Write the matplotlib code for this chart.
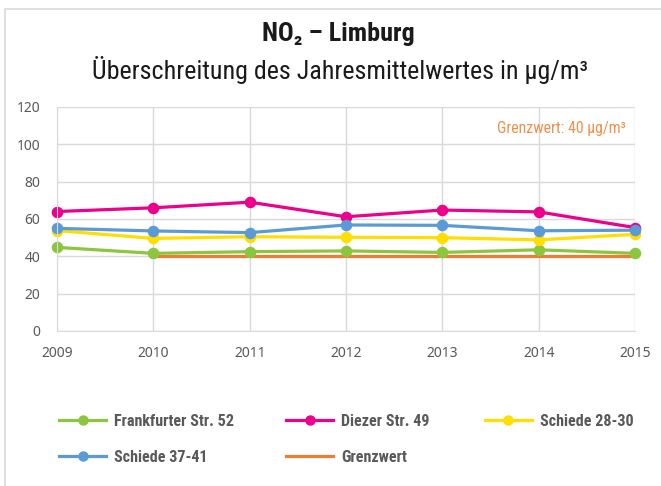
import matplotlib
matplotlib.use("Agg")
import matplotlib.pyplot as plt
from matplotlib.patches import Rectangle
from matplotlib.lines import Line2D
from matplotlib import font_manager
from matplotlib.font_manager import FontProperties

years = [2009, 2010, 2011, 2012, 2013, 2014, 2015]
frankfurter = [44.8, 41.6, 42.5, 42.9, 42.1, 43.5, 41.6]
diezer = [64, 66, 69, 61.2, 64.8, 63.8, 55.4]
schiede_28_30 = [53.8, 49.6, 50.5, 50.2, 50.0, 48.8, 51.8]
schiede_37_41 = [55, 53.6, 52.7, 56.8, 56.6, 53.7, 54.0]
grenz_years = [2010, 2011, 2012, 2013, 2014, 2015]
grenzwert = [40, 40, 40, 40, 40, 40]
yticks = [0, 20, 40, 60, 80, 100, 120]
series_labels = ["Frankfurter Str. 52", "Diezer Str. 49", "Schiede 28-30", "Schiede 37-41", "Grenzwert"]

# ---- font selection -------------------------------------------------------
ttfs = font_manager.fontManager.ttflist


def wnum(w):
    if isinstance(w, (int, float)):
        return int(w)
    return font_manager.weight_dict.get(str(w).lower(), 400)


def face(name, bold):
    best = None
    for f in ttfs:
        if f.style != "normal":
            continue
        w = wnum(f.weight)
        if bold:
            if f.name == name and w >= 600:
                if best is None or abs(w - 700) < abs(wnum(best.weight) - 700):
                    best = f
            elif f.name in (name + " Bold", name + " SemiBold") and best is None:
                best = f
        else:
            if f.name == name and 350 <= w <= 500:
                if best is None or abs(w - 400) < abs(wnum(best.weight) - 400):
                    best = f
    return best.fname if best else None


prefs = ["Noto Sans SemiCondensed", "Open Sans SemiCondensed", "Noto Sans Condensed",
         "Open Sans Condensed", "Roboto Condensed", "Liberation Sans Narrow", "Lato", "DejaVu Sans"]
reg_path = bold_path = None
for n in prefs:
    r, b = face(n, False), face(n, True)
    if r and b:
        reg_path, bold_path = r, b
        break


def fp(bold, size):
    p = bold_path if bold else reg_path
    if p:
        return FontProperties(fname=p, size=size)
    return FontProperties(family="DejaVu Sans", weight="bold" if bold else "normal", size=size)


W, H = 661, 486
fig = plt.figure(figsize=(W / 100, H / 100), dpi=100)
renderer = fig.canvas.get_renderer()


def fit(txt, target_px):
    ext = txt.get_window_extent(renderer=renderer)
    if ext.width > 0:
        txt.set_fontsize(txt.get_fontsize() * target_px / ext.width)


fig.patches.append(Rectangle((5 / W, -0.01), 1.0, 1 - 9 / H + 0.01, transform=fig.transFigure,
                             fill=False, edgecolor="#d9d9d9", linewidth=1.2))

ax = fig.add_axes([57 / W, 1 - 331 / H, (635 - 57) / W, (331 - 107) / H])
ax.set_xlim(2009, 2015)
ax.set_ylim(0, 120)
ax.set_yticks(yticks)
ax.set_xticks(years)
ax.grid(True, color="#d9d9d9", linewidth=1.0)
ax.set_axisbelow(True)
for s in ["top", "right"]:
    ax.spines[s].set_visible(False)
for s in ["left", "bottom"]:
    ax.spines[s].set_color("#d9d9d9")
ax.tick_params(length=0, colors="#595959", pad=6)
ax.tick_params(axis="x", pad=11)
ax.tick_params(axis="y", pad=12)
tick_fp = FontProperties(family=["Noto Sans", "DejaVu Sans"], size=10)
for lab in ax.get_xticklabels() + ax.get_yticklabels():
    lab.set_fontproperties(tick_fp)

lw = 2.3
ms = 7.3
green, pink, yellow, blue, orange = "#8cc63f", "#ec008c", "#ffde00", "#5b9bd5", "#ed7d31"
ax.plot(grenz_years, grenzwert, color=orange, lw=lw, clip_on=False)
ax.plot(years, frankfurter, color=green, lw=lw, marker="o", ms=ms, clip_on=False)
ax.plot(years, schiede_28_30, color=yellow, lw=lw, marker="o", ms=ms, clip_on=False)
ax.plot(years, diezer, color=pink, lw=lw, marker="o", ms=ms, clip_on=False)
ax.plot(years, schiede_37_41, color=blue, lw=lw, marker="o", ms=ms, clip_on=False)

g = ax.text(0.985, 0.905, "Grenzwert: 40 µg/m³", transform=ax.transAxes, ha="right", va="center",
            color="#f0904a", fontproperties=fp(False, 10.5))
fit(g, 130)

t1 = fig.text(0.5 + 8 / W, 1 - 34 / H, "NO₂ – Limburg", ha="center", va="center",
              fontproperties=fp(True, 16), color="#1a1a1a")
fit(t1, 152)
t2 = fig.text(0.5 + 9 / W, 1 - 70 / H, "Überschreitung des Jahresmittelwertes in µg/m³", ha="center",
              va="center", fontproperties=fp(False, 16), color="#1a1a1a")
fit(t2, 497)

# legend font size fitted to the width of the first label
probe = fig.text(0, 0, series_labels[0], fontproperties=fp(True, 11))
fit(probe, 120)
leg_size = probe.get_fontsize()
probe.remove()
em = leg_size * 100 / 72.0  # px per em

colors = [green, pink, yellow, blue, orange]
has_marker = [True, True, True, True, False]
pos = [(59, 421), (286, 421), (485, 421), (59, 457), (286, 457)]
for label, c, m, (px, py) in zip(series_labels, colors, has_marker, pos):
    hdl = Line2D([0], [0], color=c, lw=lw, marker="o" if m else None, ms=6.5)
    leg = fig.legend([hdl], [label], loc="center left",
                     bbox_to_anchor=(px / W, 1 - py / H), frameon=False,
                     handlelength=47 / em, handletextpad=8 / em, borderpad=0, borderaxespad=0,
                     prop=fp(True, leg_size))
    for t in leg.get_texts():
        t.set_color("#595959")

fig.savefig("out.png", dpi=100)
